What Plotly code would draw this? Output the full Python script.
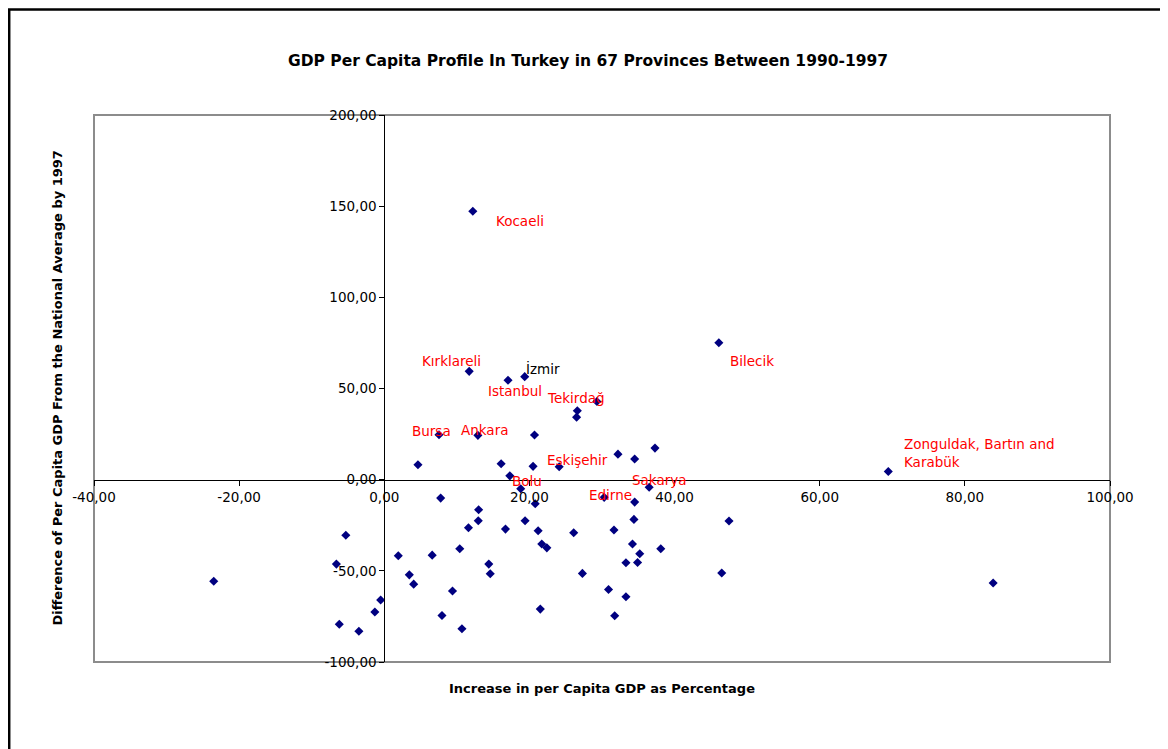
import plotly.graph_objects as go

# ---- data ----
x_vals = [12.2, 11.7, 19.35, 17.05, 29.3, 7.54, 12.9, 24.1, 18.8, 30.3, 36.5, 46.1, 69.45,
          -23.5, -6.6, -5.3, -6.2, -3.5, -1.3, -0.5,
          1.93, 3.45, 4.05, 7.77, 13.0, 12.95, 11.6, 10.4, 6.6, 9.4, 7.95, 10.7, 14.4, 14.6,
          20.8, 16.7, 19.4, 21.2, 21.7, 22.4, 21.5, 26.1, 27.3, 31.65, 30.9, 31.75, 33.3,
          33.3, 34.5, 34.4, 34.2, 35.2, 34.9, 38.1, 47.5, 46.5,
          26.6, 26.5, 20.7, 4.64, 16.1, 20.5, 32.2, 34.5, 37.3, 17.3, 83.9]
y_vals = [147.2, 59.4, 56.5, 54.5, 42.9, 24.6, 24.3, 7.1, -5.0, -9.7, -4.2, 75.1, 4.5,
          -55.7, -46.3, -30.5, -79.3, -83.1, -72.6, -66.0,
          -41.7, -52.2, -57.3, -10.1, -16.5, -22.5, -26.4, -37.9, -41.4, -61.1, -74.5, -81.8, -46.3, -51.6,
          -13.2, -27.1, -22.5, -28.0, -35.3, -37.4, -71.0, -29.1, -51.4, -27.6, -60.2, -74.6, -64.2,
          -45.6, -12.3, -21.8, -35.3, -40.6, -45.4, -37.9, -22.7, -51.2,
          37.8, 34.3, 24.5, 8.2, 8.7, 7.3, 14.0, 11.3, 17.3, 2.1, -56.7]
label_names = ["Kocaeli", "Kırklareli", "İzmir", "Istanbul", "Tekirdağ", "Bursa", "Ankara",
               "Eskişehir", "Bolu", "Edirne", "Sakarya", "Bilecik",
               "Zonguldak, Bartın and<br>Karabük"]
x_ticks = [-40, -20, 0, 20, 40, 60, 80, 100]
y_ticks = [-100, -50, 0, 50, 100, 150, 200]

# ---- label placement (pixel offsets from each point) ----
label_style = {
    "Kocaeli": ("left", 21, -10, "red"),
    "Kırklareli": ("center", -18, 10, "red"),
    "İzmir": ("left", -1, 8, "black"),
    "Istanbul": ("left", -22, -11, "red"),
    "Tekirdağ": ("left", -52, 3, "red"),
    "Bursa": ("left", -29, 4, "red"),
    "Ankara": ("left", -19, 5, "red"),
    "Eskişehir": ("left", -14, 7, "red"),
    "Bolu": ("left", -11, 8, "red"),
    "Edirne": ("left", -17, 2, "red"),
    "Sakarya": ("left", -19, 7, "red"),
    "Bilecik": ("left", 9, -18, "red"),
    "Zonguldak, Bartın and<br>Karabük": ("left", 14, 18, "red"),
}

FONT = "DejaVu Sans, Liberation Sans, Arial, sans-serif"
xr = [-40, 100]
yr = [-100, 200]

# figure is placed by the page 8px from the top-left corner
W, H = 1160, 741
ML, MR, MT, MB = 86, 58, 107, 87
PW, PH = W - ML - MR, H - MT - MB

def fmt(v):
    return f"{v:.2f}".replace(".", ",")

fig = go.Figure()
fig.add_trace(go.Scatter(
    x=x_vals, y=y_vals, mode="markers",
    marker=dict(symbol="diamond", size=7, color="#000080", line=dict(width=0)),
    showlegend=False, hoverinfo="x+y"))

annotations = []
for i, name in enumerate(label_names):
    anchor, dx, dy, col = label_style[name]
    annotations.append(dict(
        x=x_vals[i], y=y_vals[i], xref="x", yref="y", text=name, showarrow=False,
        xanchor=anchor, yanchor="middle", xshift=dx, yshift=dy, align="left",
        font=dict(family=FONT, size=13.5, color="#FF0000" if col == "red" else "#000000")))

annotations.append(dict(
    x=0.5, y=-0.049, xref="paper", yref="paper", showarrow=False,
    text="<b>Increase in per Capita GDP as Percentage</b>",
    xanchor="center", yanchor="middle", font=dict(family=FONT, size=13, color="black")))
annotations.append(dict(
    x=(57 - 8 - ML) / PW, y=0.5, xref="paper", yref="paper", showarrow=False, textangle=-90,
    text="<b>Difference of Per Capita GDP From the National Average by 1997</b>",
    xanchor="center", yanchor="middle", font=dict(family=FONT, size=13, color="black")))

x_pos = (0 - xr[0]) / (xr[1] - xr[0])
y_pos = (0 - yr[0]) / (yr[1] - yr[0])

fig.update_layout(
    width=W, height=H,
    margin=dict(l=ML, r=MR, t=MT, b=MB),
    paper_bgcolor="white", plot_bgcolor="white",
    title=dict(text="<b>GDP Per Capita Profile In Turkey in 67 Provinces Between 1990-1997</b>",
               x=0.5, xref="container", xanchor="center",
               y=1 - 53 / H, yref="container", yanchor="middle",
               font=dict(family=FONT, size=15.5, color="black")),
    xaxis=dict(range=xr, tickvals=x_ticks, ticktext=[fmt(v) for v in x_ticks],
               anchor="free", position=y_pos, showline=True, linecolor="black", linewidth=1,
               ticks="outside", ticklen=5, tickcolor="black", showgrid=False, zeroline=False,
               tickfont=dict(family=FONT, size=13.5, color="black")),
    yaxis=dict(range=yr, tickvals=y_ticks, ticktext=[fmt(v) for v in y_ticks],
               anchor="free", position=x_pos, showline=True, linecolor="black", linewidth=1,
               ticks="outside", ticklen=5, tickcolor="black", showgrid=False, zeroline=False,
               tickfont=dict(family=FONT, size=13.5, color="black")),
    annotations=annotations,
    shapes=[
        dict(type="rect", xref="paper", yref="paper", x0=0, x1=1, y0=0, y1=1,
             line=dict(color="#8c8c8c", width=2), layer="below"),
        dict(type="rect", xref="paper", yref="paper",
             x0=(1.2 - ML) / PW, x1=(W + 20 - ML) / PW,
             y0=-(MB + 20) / PH, y1=(PH + MT - 1.5) / PH,
             line=dict(color="black", width=2.5)),
    ],
)

fig.write_html("out.html")
